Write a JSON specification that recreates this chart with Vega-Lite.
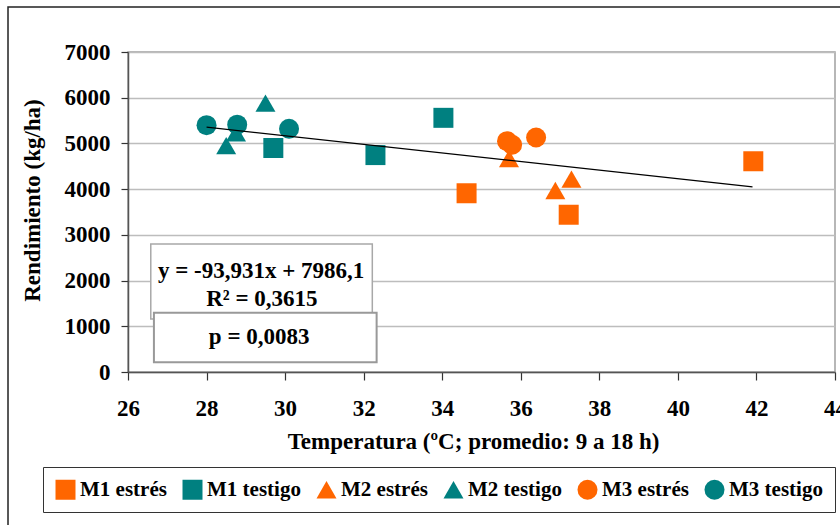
{
  "$schema": "https://vega.github.io/schema/vega-lite/v6.json",
  "width": 707,
  "height": 320,
  "autosize": {"type": "none"},
  "padding": {"left": 128, "top": 52, "right": 5, "bottom": 153},
  "background": "white",
  "config": {
    "font": "Liberation Serif",
    "view": {"stroke": "#a0a0a0", "strokeWidth": 1.5},
    "axis": {
      "labelFont": "Liberation Serif", "labelFontSize": 23, "labelFontWeight": "bold", "labelColor": "black",
      "titleFont": "Liberation Serif", "titleFontSize": 23, "titleFontWeight": "bold", "titleColor": "black",
      "domainColor": "#555555", "domainWidth": 1.5, "tickColor": "#333333", "tickWidth": 1.2
    },
    "legend": {
      "orient": "none", "legendX": -85, "legendY": 415, "direction": "horizontal", "columns": 6,
      "strokeColor": "#333333", "fillColor": "white", "padding": 12,
      "labelFont": "Liberation Serif", "labelFontSize": 21, "labelFontWeight": "bold", "labelColor": "black",
      "symbolSize": 250, "labelOffset": 4, "columnPadding": 15, "symbolStrokeWidth": 0
    }
  },
  "datasets": {
    "pts": [
      {"serie": "M1 estrés", "temp": 34.62, "rend": 3910},
      {"serie": "M1 estrés", "temp": 37.22, "rend": 3440},
      {"serie": "M1 estrés", "temp": 41.92, "rend": 4610},
      {"serie": "M1 testigo", "temp": 29.7, "rend": 4900},
      {"serie": "M1 testigo", "temp": 32.3, "rend": 4745},
      {"serie": "M1 testigo", "temp": 34.03, "rend": 5560},
      {"serie": "M2 estrés", "temp": 35.7, "rend": 4670},
      {"serie": "M2 estrés", "temp": 36.88, "rend": 3970},
      {"serie": "M2 estrés", "temp": 37.29, "rend": 4220},
      {"serie": "M2 testigo", "temp": 28.5, "rend": 4950},
      {"serie": "M2 testigo", "temp": 28.75, "rend": 5230},
      {"serie": "M2 testigo", "temp": 29.5, "rend": 5880},
      {"serie": "M3 estrés", "temp": 35.65, "rend": 5050},
      {"serie": "M3 estrés", "temp": 35.78, "rend": 4970},
      {"serie": "M3 estrés", "temp": 36.39, "rend": 5130},
      {"serie": "M3 testigo", "temp": 28.0, "rend": 5400},
      {"serie": "M3 testigo", "temp": 28.78, "rend": 5410},
      {"serie": "M3 testigo", "temp": 30.1, "rend": 5320}
    ],
    "trend": [
      {"temp": 28.0, "rend": 5356},
      {"temp": 41.9, "rend": 4050}
    ],
    "frame": [
      {"temp": 22.945, "temp2": 48, "rend": 7984, "rend2": -5000}
    ],
    "box1": [
      {"temp": 26.58, "temp2": 32.22, "rend": 2798, "rend2": 1157}
    ],
    "box2": [
      {"temp": 26.66, "temp2": 32.33, "rend": 1296, "rend2": 213}
    ],
    "txt1": [
      {"temp": 29.39, "rend": 2212, "label": "y = -93,931x + 7986,1"},
      {"temp": 29.41, "rend": 1597, "label": "R² = 0,3615"}
    ],
    "txt2": [
      {"temp": 29.34, "rend": 762, "label": "p = 0,0083"}
    ]
  },
  "layer": [
    {
      "data": {"name": "pts"},
      "mark": {"type": "point", "filled": true, "opacity": 1},
      "encoding": {
        "x": {
          "field": "temp", "type": "quantitative",
          "scale": {"domain": [26, 44], "nice": false, "zero": false},
          "axis": {
            "title": "Temperatura (ºC; promedio: 9 a 18 h)", "values": [26, 28, 30, 32, 34, 36, 38, 40, 42, 44],
            "grid": false, "tickSize": 8, "labelPadding": 17, "titlePadding": 10, "titleX": 345, "labelFlush": false
          }
        },
        "y": {
          "field": "rend", "type": "quantitative",
          "scale": {"domain": [0, 7000], "nice": false, "zero": false},
          "axis": {
            "title": "Rendimiento (kg/ha)", "values": [0, 1000, 2000, 3000, 4000, 5000, 6000, 7000], "format": "d",
            "grid": true, "gridColor": "#bdbdbd", "gridWidth": 1.5, "tickSize": 7, "labelPadding": 11,
            "titlePadding": 20, "titleY": 148, "labelFlush": false
          }
        },
        "color": {
          "field": "serie", "type": "nominal",
          "scale": {
            "domain": ["M1 estrés", "M1 testigo", "M2 estrés", "M2 testigo", "M3 estrés", "M3 testigo"],
            "range": ["#FF6600", "#008080", "#FF6600", "#008080", "#FF6600", "#008080"]
          },
          "legend": {"title": null}
        },
        "shape": {
          "field": "serie", "type": "nominal",
          "scale": {
            "domain": ["M1 estrés", "M1 testigo", "M2 estrés", "M2 testigo", "M3 estrés", "M3 testigo"],
            "range": ["square", "square", "triangle-up", "triangle-up", "circle", "circle"]
          },
          "legend": {"title": null}
        },
        "size": {
          "field": "serie", "type": "nominal",
          "scale": {
            "domain": ["M1 estrés", "M1 testigo", "M2 estrés", "M2 testigo", "M3 estrés", "M3 testigo"],
            "range": [400, 400, 330, 330, 260, 260]
          },
          "legend": null
        }
      }
    },
    {
      "data": {"name": "trend"},
      "mark": {"type": "line", "color": "black", "strokeWidth": 1.2},
      "encoding": {
        "x": {"field": "temp", "type": "quantitative", "scale": {"domain": [26, 44], "nice": false, "zero": false}},
        "y": {"field": "rend", "type": "quantitative", "scale": {"domain": [0, 7000], "nice": false, "zero": false}}
      }
    },
    {
      "data": {"name": "frame"},
      "mark": {"type": "rect", "fillOpacity": 0, "stroke": "#222222", "strokeWidth": 1.5, "clip": false},
      "encoding": {
        "x": {"field": "temp", "type": "quantitative", "scale": {"domain": [26, 44], "nice": false, "zero": false}},
        "x2": {"field": "temp2"},
        "y": {"field": "rend", "type": "quantitative", "scale": {"domain": [0, 7000], "nice": false, "zero": false}},
        "y2": {"field": "rend2"}
      }
    },
    {
      "data": {"name": "box1"},
      "mark": {"type": "rect", "fill": "white", "stroke": "#a8a8a8", "strokeWidth": 1.5},
      "encoding": {
        "x": {"field": "temp", "type": "quantitative", "scale": {"domain": [26, 44], "nice": false, "zero": false}},
        "x2": {"field": "temp2"},
        "y": {"field": "rend", "type": "quantitative", "scale": {"domain": [0, 7000], "nice": false, "zero": false}},
        "y2": {"field": "rend2"}
      }
    },
    {
      "data": {"name": "txt1"},
      "mark": {"type": "text", "font": "Liberation Serif", "fontSize": 23, "fontWeight": "bold", "align": "center", "baseline": "middle", "color": "black"},
      "encoding": {
        "x": {"field": "temp", "type": "quantitative", "scale": {"domain": [26, 44], "nice": false, "zero": false}},
        "y": {"field": "rend", "type": "quantitative", "scale": {"domain": [0, 7000], "nice": false, "zero": false}},
        "text": {"field": "label"}
      }
    },
    {
      "data": {"name": "box2"},
      "mark": {"type": "rect", "fill": "white", "stroke": "#999999", "strokeWidth": 2},
      "encoding": {
        "x": {"field": "temp", "type": "quantitative", "scale": {"domain": [26, 44], "nice": false, "zero": false}},
        "x2": {"field": "temp2"},
        "y": {"field": "rend", "type": "quantitative", "scale": {"domain": [0, 7000], "nice": false, "zero": false}},
        "y2": {"field": "rend2"}
      }
    },
    {
      "data": {"name": "txt2"},
      "mark": {"type": "text", "font": "Liberation Serif", "fontSize": 23, "fontWeight": "bold", "align": "center", "baseline": "middle", "color": "black"},
      "encoding": {
        "x": {"field": "temp", "type": "quantitative", "scale": {"domain": [26, 44], "nice": false, "zero": false}},
        "y": {"field": "rend", "type": "quantitative", "scale": {"domain": [0, 7000], "nice": false, "zero": false}},
        "text": {"field": "label"}
      }
    }
  ]
}
